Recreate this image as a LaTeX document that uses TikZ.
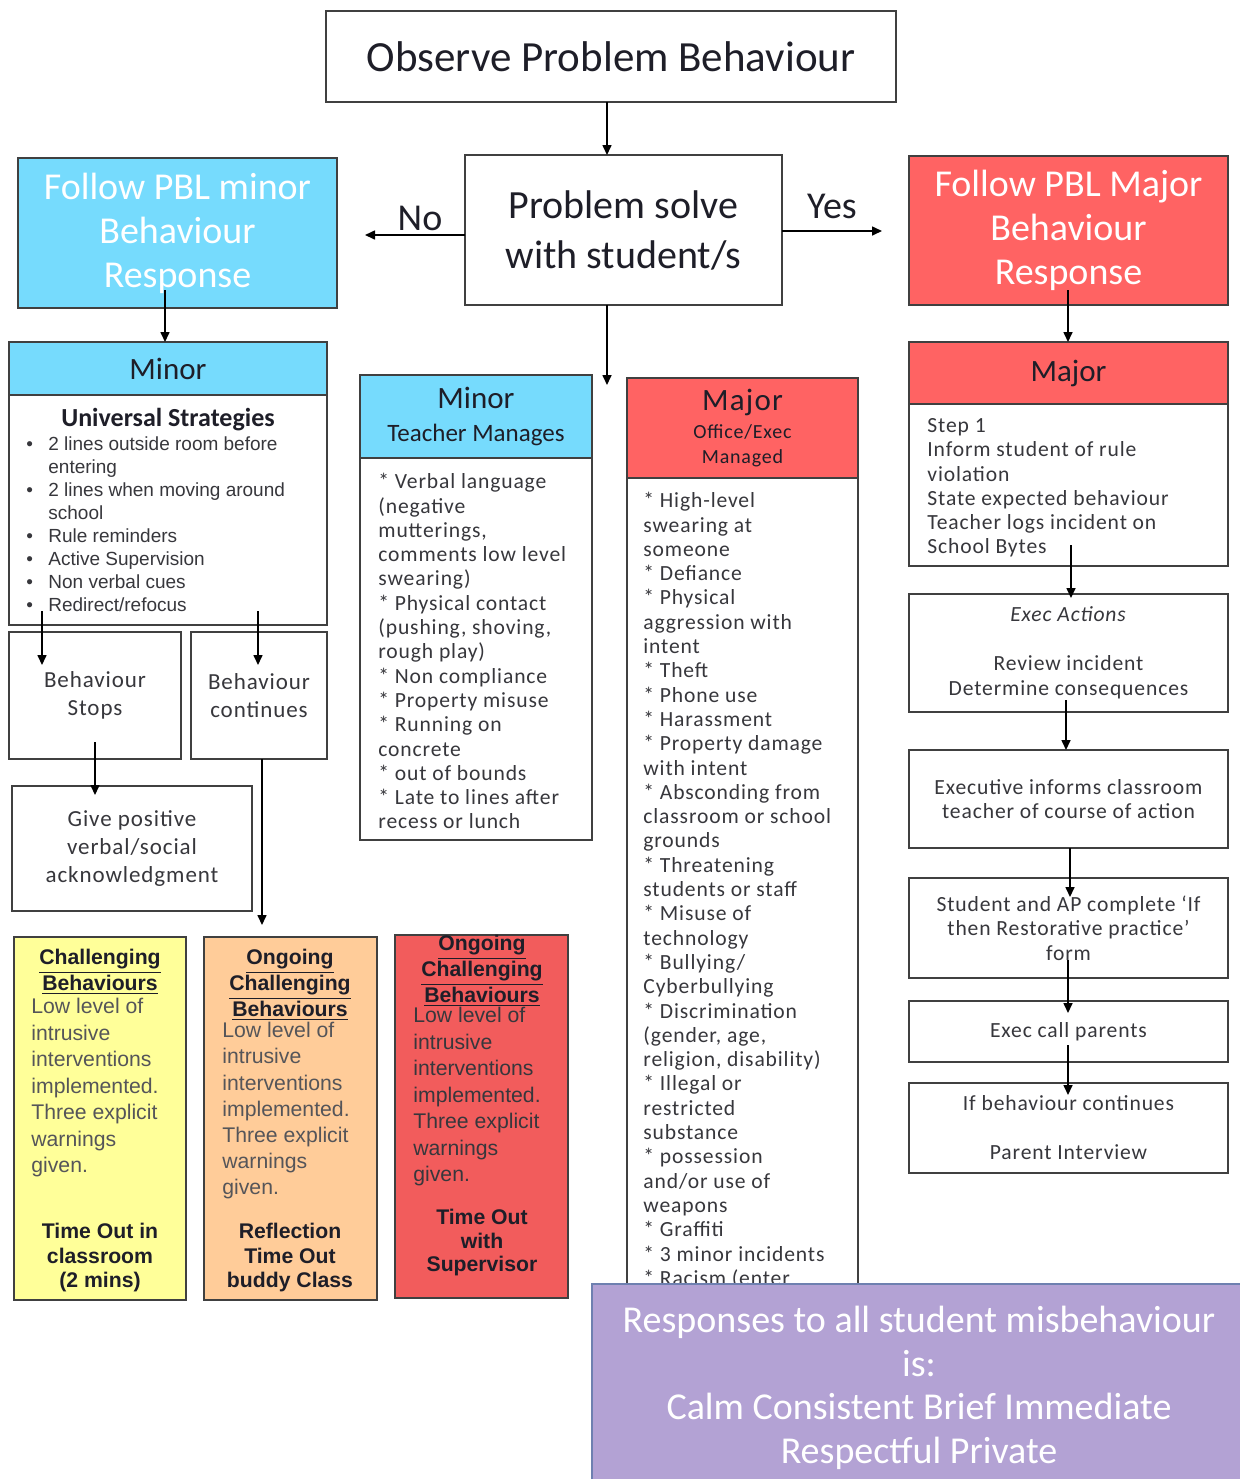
\documentclass[tikz,border=0pt]{standalone}
\usepackage{fontspec}
\setmainfont{Carlito}
\newfontfamily\bodyf[LetterSpace=4]{Carlito}
\newfontfamily\arialf{Liberation Sans}
\usetikzlibrary{arrows.meta}
\definecolor{cyanf}{RGB}{118,219,253}
\definecolor{redh}{RGB}{255,99,99}
\definecolor{redb}{RGB}{242,92,92}
\definecolor{yelf}{RGB}{255,255,153}
\definecolor{oraf}{RGB}{255,204,153}
\definecolor{purf}{RGB}{179,162,212}
\definecolor{purd}{RGB}{110,128,176}
\definecolor{bordc}{RGB}{64,64,64}
\definecolor{txt}{RGB}{30,30,40}
\definecolor{bodyc}{RGB}{55,55,60}
\begin{document}
\begin{tikzpicture}[x=0.5pt,y=-0.5pt,
  box/.style={draw=bordc, line width=1.3pt, fill=white, inner sep=0pt, outer sep=0pt, anchor=north west, align=center, text=txt},
  arr/.style={-{Triangle[length=5pt,width=4.5pt]}, line width=0.8pt, black},
  bigf/.style={font=\fontsize{19}{22}\selectfont},
  bodytxt/.style={inner sep=0pt, align=left, anchor=north west, text=bodyc, font=\bodyf\fontsize{10.8}{12.15}\selectfont},
  ctrtxt/.style={font=\bodyf\fontsize{10.8}{12.25}\selectfont, text=bodyc},
  btitle/.style={inner sep=0pt, align=center, anchor=north, text=txt, font=\arialf\bfseries\fontsize{10.6}{11}\selectfont},
  bbody/.style={inner sep=0pt, align=left, anchor=north west, text=bodyc!85!white, font=\arialf\fontsize{10.6}{13.25}\selectfont},
  bfoot/.style={inner sep=0pt, align=center, anchor=north, text=txt, font=\arialf\bfseries\fontsize{10.6}{12.25}\selectfont}
]
\useasboundingbox (0,0) rectangle (1240,1479);

% top
\node[box, minimum width=285pt, minimum height=45.5pt, font=\fontsize{21.5}{25}\selectfont] (obs) at (326,11) {Observe Problem Behaviour};
\node[box, minimum width=158.5pt, minimum height=75pt, font=\fontsize{20}{25}\selectfont] (prob) at (465,155) {Problem solve\\with student/s};
\node[box, fill=cyanf, text=white, minimum width=159.5pt, minimum height=75pt, bigf] (pblmin) at (18,158) {Follow PBL minor\\Behaviour\\Response};
\node[box, fill=redh, text=white, minimum width=159.5pt, minimum height=74.5pt, bigf] (pblmaj) at (909,156) {Follow PBL Major\\Behaviour\\Response};
\node[text=txt, bigf] (nolab) at (420,218) {No};
\node[text=txt, bigf] (yeslab) at (832,206) {Yes};

% left minor
\node[box, fill=cyanf, minimum width=159pt, minimum height=26.5pt, font=\fontsize{15.5}{18}\selectfont] (minLh) at (9,342) {Minor};
\node[box, minimum width=159pt, minimum height=115pt] (minLb) at (9,395) {};
\node[text=txt, font=\bfseries\fontsize{13}{15}\selectfont, inner sep=0pt] (univ) at (168,420) {Universal Strategies};
\node[inner sep=0pt, align=left, anchor=north west, text=bodyc, font=\arialf\fontsize{9.5}{11.5}\selectfont] (bul) at (26,436)
 {\makebox[11pt][l]{\textbullet}2 lines outside room before\\\hspace*{11pt}entering\\
  \makebox[11pt][l]{\textbullet}2 lines when moving around\\\hspace*{11pt}school\\
  \makebox[11pt][l]{\textbullet}Rule reminders\\
  \makebox[11pt][l]{\textbullet}Active Supervision\\
  \makebox[11pt][l]{\textbullet}Non verbal cues\\
  \makebox[11pt][l]{\textbullet}Redirect/refocus};

\node[box, minimum width=86pt, minimum height=63.5pt, font=\bodyf\fontsize{11.5}{14}\selectfont, text=bodyc] (stops) at (9,632) {Behaviour\\Stops};
\node[box, minimum width=68pt, minimum height=63.5pt, font=\bodyf\fontsize{11.5}{14}\selectfont, text=bodyc] (cont) at (191,632) {Behaviour\\continues};
\node[box, minimum width=120pt, minimum height=62.5pt, font=\bodyf\fontsize{11.5}{14}\selectfont, text=bodyc] (give) at (12,786) {Give positive\\verbal/social\\acknowledgment};

% bottom coloured boxes
\node[box, fill=yelf, minimum width=86pt, minimum height=181.5pt] (yel) at (14,937) {};
\node[box, fill=oraf, minimum width=86.5pt, minimum height=181.5pt] (ora) at (204,937) {};
\node[box, fill=redb, minimum width=86.5pt, minimum height=181.5pt] (red) at (395,935) {};
\node[btitle] (ytit) at (100,949) {\underline{Challenging}\\\underline{Behaviours}};
\node[bbody] (ybody) at (31,998) {Low level of\\intrusive\\interventions\\implemented.\\Three explicit\\warnings\\given.};
\node[bfoot] (yfoot) at (100,1223) {Time Out in\\classroom\\(2 mins)};
\node[btitle, font=\arialf\bfseries\fontsize{10.6}{11.75}\selectfont] (otit) at (290,949) {\underline{Ongoing}\\\underline{Challenging}\\\underline{Behaviours}};
\node[bbody, font=\arialf\fontsize{10.6}{13.1}\selectfont] (obody) at (222,1022) {Low level of\\intrusive\\interventions\\implemented.\\Three explicit\\warnings\\given.};
\node[bfoot] (ofoot) at (290,1223) {Reflection\\Time Out\\buddy Class};
\node[btitle, font=\arialf\bfseries\fontsize{10.6}{11.75}\selectfont] (rtit) at (482,935) {\underline{Ongoing}\\\underline{Challenging}\\\underline{Behaviours}};
\node[bbody, text=bodyc] (rbody) at (413,1007) {Low level of\\intrusive\\interventions\\implemented.\\Three explicit\\warnings\\given.};
\node[bfoot, font=\arialf\bfseries\fontsize{10.6}{11.75}\selectfont] (rfoot) at (482,1209) {Time Out\\with\\Supervisor};

% minor teacher manages
\node[box, fill=cyanf, minimum width=116pt, minimum height=41.5pt, font=\fontsize{12.5}{16.5}\selectfont] (minTh) at (360,375) {{\fontsize{15.5}{16.5}\selectfont Minor}\\Teacher Manages};
\node[box, minimum width=116pt, minimum height=191pt] (minTb) at (360,458) {};
\node[bodytxt] (minTt) at (378,473) {{*} Verbal language\\(negative\\mutterings,\\comments low level\\swearing)\\{*} Physical contact\\(pushing, shoving,\\rough play)\\{*} Non compliance\\{*} Property misuse\\{*} Running on\\concrete\\{*} out of bounds\\{*} Late to lines after\\recess or lunch};

% major office
\node[box, fill=redh, minimum width=115.5pt, minimum height=50pt, font=\bodyf\fontsize{10}{12.5}\selectfont] (majOh) at (627,378) {{\fontsize{15.5}{15.5}\selectfont Major}\\[1.5pt]Office/Exec\\Managed};
\node[box, minimum width=115.5pt, minimum height=411pt] (majOb) at (627,478) {};
\node[bodytxt] (majOt) at (643,492) {{*} High-level\\swearing at\\someone\\{*} Defiance\\{*} Physical\\aggression with\\intent\\{*} Theft\\{*} Phone use\\{*} Harassment\\{*} Property damage\\with intent\\{*} Absconding from\\classroom or school\\grounds\\{*} Threatening\\students or staff\\{*} Misuse of\\technology\\{*} Bullying/\\Cyberbullying\\{*} Discrimination\\(gender, age,\\religion, disability)\\{*} Illegal or\\restricted\\substance\\{*} possession\\and/or use of\\weapons\\{*} Graffiti\\{*} 3 minor incidents\\{*} Racism (enter};

% right major column
\node[box, fill=redh, minimum width=159.5pt, minimum height=31pt, font=\fontsize{15.5}{18}\selectfont] (majRh) at (909,342) {Major};
\node[box, minimum width=159.5pt, minimum height=81pt] (majRb) at (909,404) {};
\node[bodytxt] (majRt) at (927,418) {Step 1\\Inform student of rule\\violation\\State expected behaviour\\Teacher logs incident on\\School Bytes};
\node[box, minimum width=159.5pt, minimum height=59pt, ctrtxt] (exec) at (909,594) {\textit{Exec Actions}\\\mbox{}\\Review incident\\Determine consequences};
\node[box, minimum width=159.5pt, minimum height=49pt, ctrtxt] (execinf) at (909,750) {Executive informs classroom\\teacher of course of action};
\node[box, minimum width=159.5pt, minimum height=50pt, ctrtxt] (stud) at (909,878) {Student and AP complete ‘If\\then Restorative practice’\\form};
\node[box, minimum width=159.5pt, minimum height=30.5pt, ctrtxt] (call) at (909,1001) {Exec call parents};
\node[box, minimum width=159.5pt, minimum height=45pt, ctrtxt] (ifb) at (909,1083) {If behaviour continues\\\mbox{}\\Parent Interview};

% purple
\node[box, fill=purf, draw=purd, minimum width=330pt, minimum height=110pt] (pur) at (592,1284) {};
\node[text=white, align=center, font=\fontsize{19}{21.8}\selectfont] (purt) at (919,1388) {Responses to all student misbehaviour\\is:\\Calm Consistent Brief Immediate\\Respectful Private};

% connectors
\draw[arr] (obs.south -| 607,0) -- (prob.north -| 607,0);
\coordinate (noend) at (365,235);
\draw[arr] (prob.west |- noend) -- (noend);
\coordinate (yesend) at (882,231);
\draw[arr] (prob.east |- yesend) -- (yesend);
\coordinate (downend) at (607,385);
\draw[arr] (prob.south -| downend) -- (downend);
\draw[arr] ([yshift=9pt]pblmin.south -| 165,0) -- (minLh.north -| 165,0);
\draw[arr] ([yshift=7.5pt]pblmaj.south -| 1068,0) -- (majRh.north -| 1068,0);
\draw[arr] ([yshift=7pt]minLb.south -| 42,0) -- ([yshift=-16.5pt]stops.north -| 42,0);
\draw[arr] ([yshift=7pt]minLb.south -| 258,0) -- ([yshift=-16.5pt]cont.north -| 258,0);
\draw[arr] ([yshift=8.5pt]stops.south -| 95,0) -- ([yshift=-4.5pt]give.north -| 95,0);
\coordinate (contend) at (262,925);
\draw[arr] (cont.south -| contend) -- (contend);
\draw[arr] ([yshift=10.5pt]majRb.south -| 1071,0) -- ([yshift=-2pt]exec.north -| 1071,0);
\draw[arr] ([yshift=6pt]exec.south -| 1066,0) -- (execinf.north -| 1066,0);
\draw[arr] (execinf.south -| 1070,0) -- ([yshift=-9.5pt]stud.north -| 1070,0);
\draw[arr] ([yshift=9pt]stud.south -| 1068,0) -- ([yshift=-6pt]call.north -| 1068,0);
\draw[arr] ([yshift=8.5pt]call.south -| 1068,0) -- ([yshift=-6pt]ifb.north -| 1068,0);
\end{tikzpicture}
\end{document}
